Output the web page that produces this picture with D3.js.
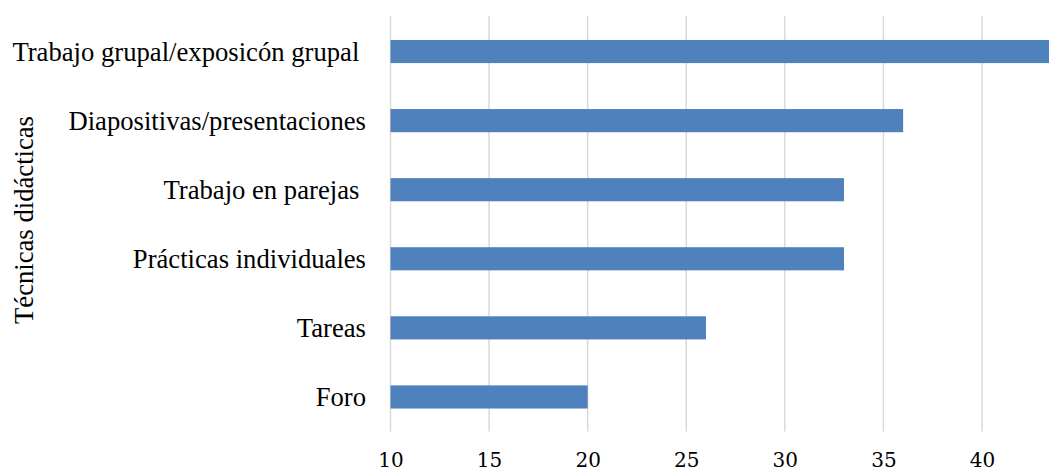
<!DOCTYPE html>
<html>
<head>
<meta charset="utf-8">
<script src="https://cdn.jsdelivr.net/npm/d3@7"></script>
<style>
  html, body { margin: 0; padding: 0; background: #fff; }
  svg { display: block; }
  .cat { white-space: pre; }
  .serif { font-family: "Liberation Serif", "Times New Roman", Times, serif; }
  .num { font-family: "DejaVu Serif", "Liberation Serif", serif; }
</style>
</head>
<body>
<svg id="chart" width="1049" height="472"></svg>
<script>
// Técnicas didácticas: frequency of each technique
const categories = [
  "Trabajo grupal/exposicón grupal ",
  "Diapositivas/presentaciones",
  "Trabajo en parejas ",
  "Prácticas individuales",
  "Tareas",
  "Foro"
];
const values = [45, 36, 33, 33, 26, 20];
const tickValues = [10, 15, 20, 25, 30, 35, 40];
const axisTitle = "Técnicas didácticas";

const width = 1049, height = 472;
const plot = { left: 390.5, top: 17, bottom: 431.5 };
const unit = (982 - 390.5) / 30; // pixels per unit on the value axis

const svg = d3.select("#chart");

const x = d3.scaleLinear()
  .domain([10, 50])
  .range([plot.left, plot.left + 40 * unit]);

const y = d3.scaleBand()
  .domain(categories)
  .range([plot.top, plot.bottom])
  .paddingInner(0.665)
  .paddingOuter(0.3325);

svg.append("defs").append("clipPath").attr("id", "clip")
  .append("rect").attr("x", 0).attr("y", 0).attr("width", width).attr("height", height);

const g = svg.append("g").attr("clip-path", "url(#clip)");

// vertical gridlines
g.append("g")
  .selectAll("line")
  .data(tickValues)
  .join("line")
  .attr("x1", d => x(d)).attr("x2", d => x(d))
  .attr("y1", plot.top - 1).attr("y2", plot.bottom)
  .attr("stroke", "#d9d9d9")
  .attr("stroke-width", 1.5);

// bars
g.append("g")
  .selectAll("rect")
  .data(values)
  .join("rect")
  .attr("x", x(10))
  .attr("y", (d, i) => y(categories[i]))
  .attr("width", d => x(d) - x(10))
  .attr("height", y.bandwidth())
  .attr("fill", "#4F81BD");

// value axis tick labels
const xAxis = d3.axisBottom(x)
  .tickValues(tickValues)
  .tickSize(0)
  .tickPadding(0)
  .tickFormat(d3.format("d"));

const xa = svg.append("g")
  .attr("transform", `translate(0, 467)`)
  .call(xAxis)
  .attr("font-family", null)
  .attr("font-size", null);
xa.select(".domain").remove();
xa.selectAll("text")
  .attr("class", "num")
  .attr("dy", 0)
  .style("font-size", "20px")
  .attr("fill", "#000");

// category labels
const yAxis = d3.axisLeft(y).tickSize(0).tickPadding(0);
const ya = svg.append("g")
  .attr("transform", `translate(${plot.left - 24.5}, 0)`)
  .call(yAxis)
  .attr("font-family", null)
  .attr("font-size", null);
ya.select(".domain").remove();
ya.selectAll("text")
  .attr("class", "cat serif")
  .attr("dy", "0.35em")
  .style("font-size", "26.67px")
  .attr("fill", "#000");

// axis title
svg.append("text")
  .attr("class", "serif")
  .attr("transform", `translate(33, 220) rotate(-90)`)
  .attr("text-anchor", "middle")
  .style("font-size", "26.67px")
  .attr("fill", "#000")
  .text(axisTitle);
</script>
</body>
</html>
